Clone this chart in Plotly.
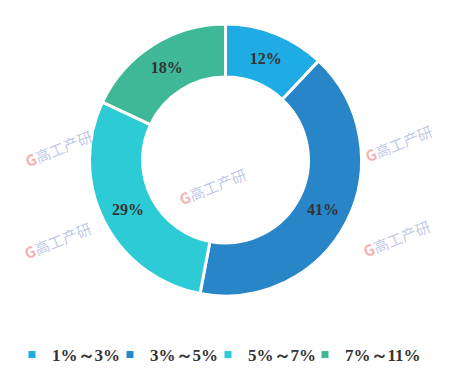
import plotly.graph_objects as go

categories = ["1%～3%", "3%～5%", "5%～7%", "7%～11%"]
values = [12, 41, 29, 18]
colors = ["#1FABE3", "#2785C8", "#2CCBD6", "#3EB896"]

W, H = 460, 377
legend_text_x = [52, 150, 248, 345]  # pixel start of each legend label

fig = go.Figure(go.Pie(
    labels=categories,
    values=values,
    hole=0.61,
    sort=False,
    direction="clockwise",
    rotation=0,
    domain=dict(x=[89 / W, 362 / W], y=[1 - 296 / H, 1 - 24 / H]),
    marker=dict(colors=colors, line=dict(color="white", width=3)),
    texttemplate="%{value}%",
    textposition="inside",
    insidetextorientation="horizontal",
    textfont=dict(family="Liberation Serif", size=16, color="#333333", weight="bold"),
    hoverinfo="label+percent",
    showlegend=False,
))

# legend entries (one legend per category, to match the reference spacing)
legend_layouts = {}
for i, (cat, col) in enumerate(zip(categories, colors)):
    lname = "legend" if i == 0 else f"legend{i + 1}"
    fig.add_trace(go.Scatter(
        x=[None], y=[None], mode="markers", name=cat,
        marker=dict(symbol="square", size=7, color=col),
        legend=lname, showlegend=True, hoverinfo="skip",
    ))
    legend_layouts[lname] = dict(
        orientation="h", x=(legend_text_x[i] - 40) / W, xanchor="left",
        y=1 - 355 / H, yanchor="middle", bgcolor="rgba(0,0,0,0)",
        font=dict(family="Liberation Serif", size=17, color="#333333", weight="bold"),
        itemwidth=30,
    )

# faint watermarks
wm = [(58, 148), (398, 143), (212, 186), (57, 240), (396, 238)]
for x, y in wm:
    fig.add_annotation(
        x=x / W, y=1 - y / H, xref="paper", yref="paper",
        xanchor="center", yanchor="middle",
        text="<span style='color:rgba(230,100,100,0.5)'><b>G</b></span><span style='color:rgba(110,130,200,0.45)'>高工产研</span>",
        showarrow=False, textangle=-22,
        font=dict(family="Noto Sans CJK SC", size=15),
    )

fig.update_layout(
    width=W, height=H,
    margin=dict(l=0, r=0, t=0, b=0),
    paper_bgcolor="white", plot_bgcolor="rgba(0,0,0,0)",
    xaxis=dict(visible=False), yaxis=dict(visible=False),
    showlegend=True,
    **legend_layouts,
)
fig.write_html("out.html")
